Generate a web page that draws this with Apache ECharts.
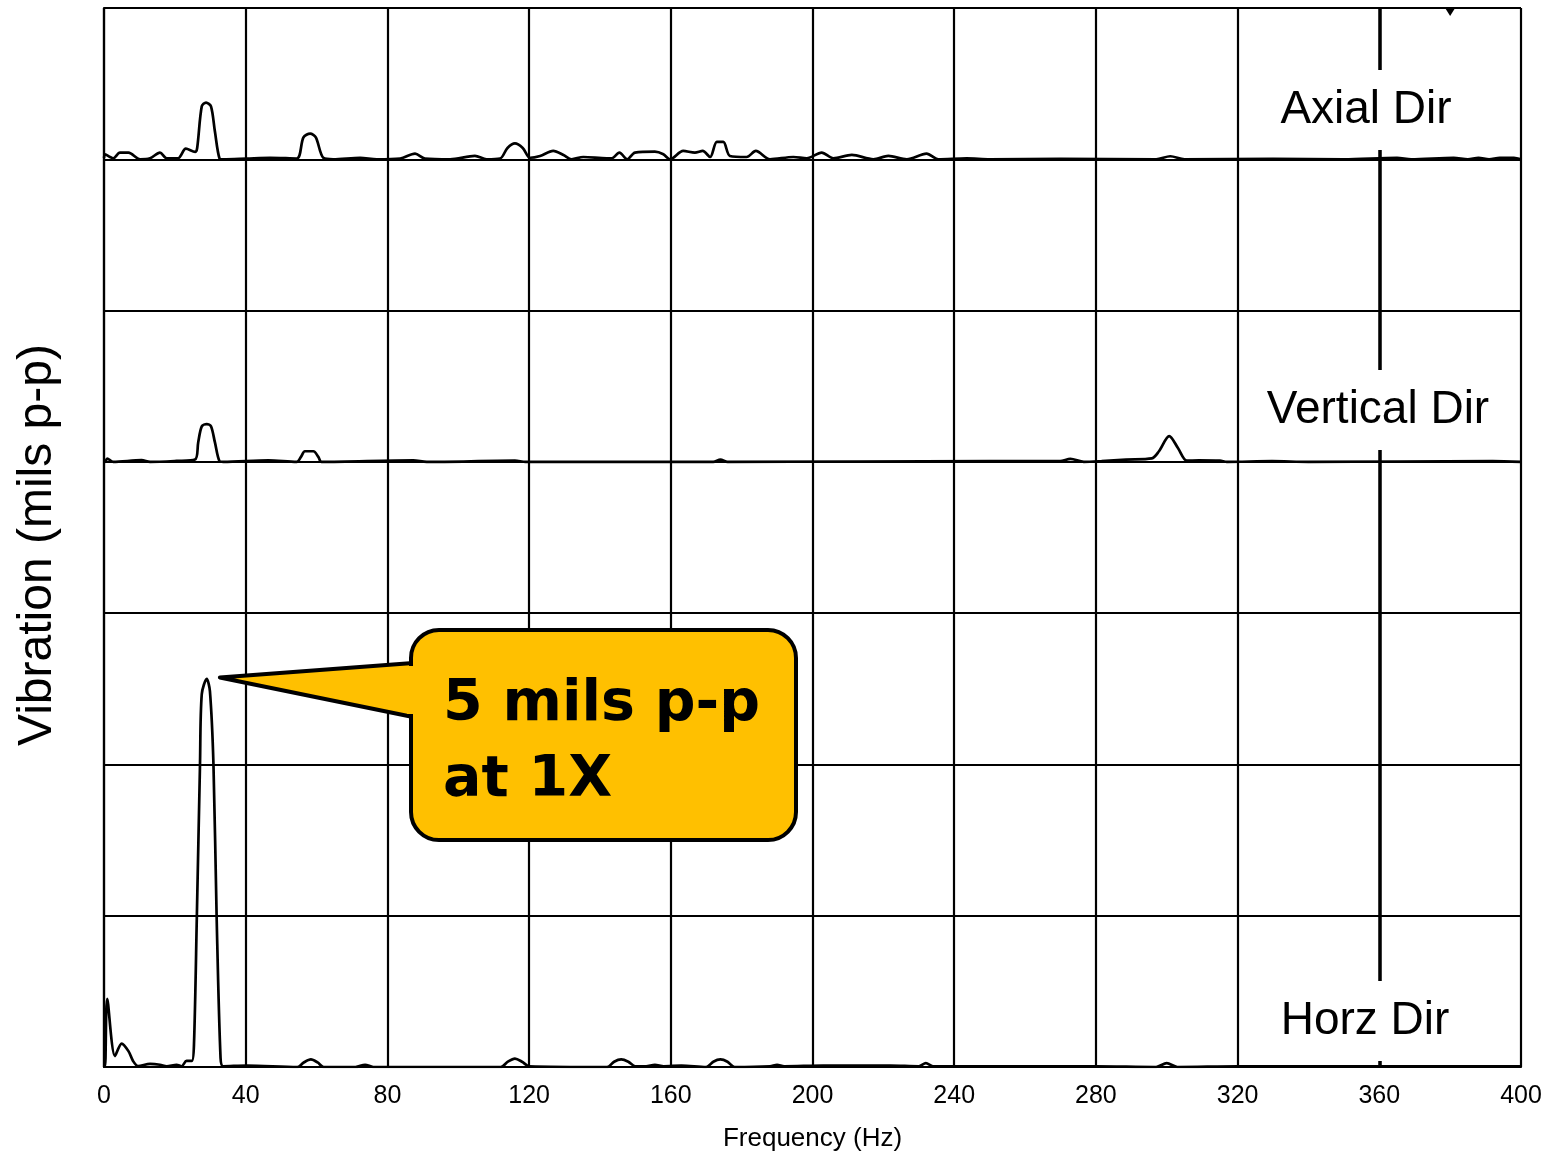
<!DOCTYPE html>
<html><head><meta charset="utf-8">
<script src="https://cdn.jsdelivr.net/npm/echarts@6/dist/echarts.min.js"></script>
<style>html,body{margin:0;padding:0;background:#fff}#c{width:1550px;height:1153px}</style>
</head><body><div id="c"></div>
<script>
// ---- data (frequency in Hz, amplitude in mils p-p) ----
const xTickLabels = ['0','40','80','120','160','200','240','280','320','360','400'];
const axialFreq = [0,0.3,1.7,2.6,4.5,6.9,10.2,13,15.8,17.7,20.9,23.1,25.7,26.3,27.6,28.8,30.2,31.3,32.6,33.7,40.3,46.9,54.4,56.3,58.2,59.8,61.9,64.7,72.3,77,83.6,87.8,90.6,97.7,104.7,108,111.8,113.9,116,118.2,120.3,123.1,126.8,129.7,132,135.3,141.9,143.3,145.5,147.7,149.9,155.5,157.9,159.8,163.5,166.8,169,171.1,173,174.8,176.7,181.4,184,188,194.6,198.4,202.6,205.9,211.1,217.2,221.4,226.6,232.2,235.5,243.5,250.1,270,297,301,305,330,350,365,369,381,385,388,391,394,398,400];
const axialAmp  = [0.02,0.066,0.03,0.013,0.088,0.088,0,0.013,0.088,0.013,0.013,0.14,0.097,0.15,0.70,0.75,0.70,0.37,0.013,0,0.01,0.02,0.01,0.29,0.34,0.29,0.02,0,0.02,0,0.01,0.075,0.01,0,0.044,0,0.01,0.15,0.21,0.15,0.02,0.044,0.11,0.057,0,0.03,0.013,0.013,0.088,0,0.088,0.10,0.066,0,0.11,0.088,0.11,0.03,0.23,0.23,0.044,0.03,0.11,0,0.03,0.013,0.088,0.013,0.057,0,0.044,0,0.075,0,0.013,0,0.005,0,0.04,0,0.005,0,0.02,0,0.02,0,0.02,0,0.02,0.02,0];
const verticalFreq = [0,0.3,0.9,2.6,10.6,13,20.5,25.7,26.6,27.6,29.0,30.2,31.3,32.6,33.7,46.4,54.4,55.6,56.7,59.1,60.5,61.4,87.3,91.1,116,119,172,174,176,250,269.9,272.8,276.6,281.6,288.5,295.8,297.8,300.7,303.2,305.7,309.1,315,317,329.7,340,392,400];
const verticalAmp  = [0,0,0.044,0,0.022,0,0.013,0.03,0.26,0.47,0.50,0.47,0.26,0.01,0,0.02,0,0.066,0.14,0.14,0.066,0,0.02,0,0.015,0,0,0.03,0,0.01,0.01,0.04,0,0.01,0.03,0.046,0.14,0.34,0.18,0.015,0.02,0.015,0,0.01,0,0.01,0];
const horzFreq = [0,0.3,0.9,3.1,5.0,6.9,8.2,9.6,13,15.8,17.7,20.5,21.9,23.3,24.8,25.4,26.2,27.1,27.6,29.0,29.9,30.9,31.8,32.9,33.6,40.3,54.6,56.4,58.4,60.3,62,71,73.7,76,112,114,116,118,120,142,144,146,148,150,153,155.5,158,163,170,172,174,176,178,188,190,192,203,222,230,232,234,250,262,280,297,300,303,320,360,400];
const horzAmp  = [0.02,0.013,0.90,0.145,0.31,0.21,0.08,0.013,0.04,0.03,0.01,0.03,0.01,0.08,0.08,0.3,1.97,4.0,4.93,5.13,4.97,4.0,1.97,0.12,0.01,0.02,0,0.06,0.1,0.06,0,0,0.03,0,0,0.07,0.11,0.07,0.01,0,0.07,0.1,0.07,0.01,0.01,0.03,0.01,0.02,0,0.07,0.1,0.07,0,0.01,0.03,0.01,0.02,0.02,0.01,0.05,0.01,0.01,0.01,0.01,0,0.05,0,0.01,0.01,0.01];
const directionLabels = ['Axial Dir','Vertical Dir','Horz Dir'];
const calloutLines = ['5 mils p-p','at 1X'];
const calloutTip = [32.7, 5.15];
const cursorFreq = 360;
const markerFreq = 380;
const xTitle = 'Frequency (Hz)';
const yTitle = 'Vibration (mils p-p)';

// ---- chart ----
const stackOffset = {axial: 12, vertical: 8, horz: 0};
function pairs(f, a, off) { return f.map((v, i) => [v, a[i] + off]); }

const chart = echarts.init(document.getElementById('c'), null, {renderer: 'canvas'});
const lineStyle = {color: '#000', width: 2.7};
const base = {type: 'line', showSymbol: false, symbol: 'none', smooth: 0.3, lineStyle: lineStyle, animation: false, silent: true, z: 3};

chart.setOption({
  animation: false,
  backgroundColor: '#fff',
  grid: {left: 104, right: 29, top: 8, bottom: 86, containLabel: false, outerBoundsMode: 'none', show: false},
  xAxis: {
    type: 'value', min: 0, max: 400, interval: 40,
    axisLine: {show: true, onZero: false, lineStyle: {color: '#000', width: 2.2}},
    axisTick: {show: false},
    splitLine: {show: true, lineStyle: {color: '#000', width: 2.2}},
    axisLabel: {color: '#000', fontFamily: 'Liberation Sans', fontSize: 25, margin: 17,
      formatter: (v) => xTickLabels[Math.round(v / 40)]},
    name: xTitle, nameLocation: 'middle', nameGap: 59,
    nameTextStyle: {color: '#000', fontFamily: 'Liberation Sans', fontSize: 26}
  },
  yAxis: {
    type: 'value', min: 0, max: 14, interval: 2,
    axisLine: {show: true, lineStyle: {color: '#000', width: 2.2}},
    axisTick: {show: false},
    axisLabel: {show: false},
    splitLine: {show: true, lineStyle: {color: '#000', width: 2.2}}
  },
  series: [
    Object.assign({name: 'Axial', data: pairs(axialFreq, axialAmp, stackOffset.axial)}, base),
    Object.assign({name: 'Vertical', data: pairs(verticalFreq, verticalAmp, stackOffset.vertical)}, base),
    Object.assign({name: 'Horz', data: pairs(horzFreq, horzAmp, stackOffset.horz),
      markLine: {silent: true, symbol: 'none', animation: false, label: {show: false},
        lineStyle: {color: '#000', width: 3.5, type: 'solid'}, data: [{xAxis: cursorFreq}]},
      markPoint: {silent: true, animation: false, symbol: 'triangle', symbolRotate: 180, symbolSize: [10, 8],
        symbolOffset: [0, 4], itemStyle: {color: '#000'}, label: {show: false},
        data: [{coord: [markerFreq, 14]}]}
    }, base)
  ]
});

function px(p) { return chart.convertToPixel({xAxisIndex: 0, yAxisIndex: 0}, p); }
const tip = px(calloutTip);
const yellow = '#FFC000';
const boxX = 411, boxY = 630, boxW = 385, boxH = 210;
const labelFont = {fontFamily: 'Liberation Sans', fontSize: 46, fill: '#000'};
const labelPos = [[1366, 110], [1378, 410], [1365, 1021]];

chart.setOption({
  graphic: [
    {type: 'polygon', z: 100, shape: {points: [tip, [boxX + 2, 663], [boxX + 2, 717]]},
      style: {fill: yellow, stroke: '#000', lineWidth: 4, lineJoin: 'round'}},
    {type: 'rect', z: 101, shape: {x: boxX, y: boxY, width: boxW, height: boxH, r: 28},
      style: {fill: yellow, stroke: '#000', lineWidth: 4}},
    {type: 'rect', z: 102, shape: {x: boxX - 4, y: 666, width: 12, height: 48},
      style: {fill: yellow}},
    {type: 'text', z: 103, x: 443, y: 705, style: {text: calloutLines[0], fontFamily: 'DejaVu Sans',
      fontWeight: 'bold', fontSize: 57, fill: '#000', verticalAlign: 'middle', align: 'left'}},
    {type: 'text', z: 103, x: 443, y: 781, style: {text: calloutLines[1], fontFamily: 'DejaVu Sans',
      fontWeight: 'bold', fontSize: 57, fill: '#000', verticalAlign: 'middle', align: 'left'}},
    {type: 'text', z: 103, x: 38, y: 545, rotation: Math.PI / 2,
      style: {text: yTitle, fontFamily: 'Liberation Sans', fontSize: 48, fill: '#000', align: 'center', verticalAlign: 'middle'}}
  ].concat(directionLabels.map((t, i) => ({
    type: 'text', z: 104, x: labelPos[i][0], y: labelPos[i][1],
    style: Object.assign({text: t, align: 'center', verticalAlign: 'middle',
      backgroundColor: '#fff', padding: [16, 10, 18, 10]}, labelFont)
  })))
});
</script></body></html>
